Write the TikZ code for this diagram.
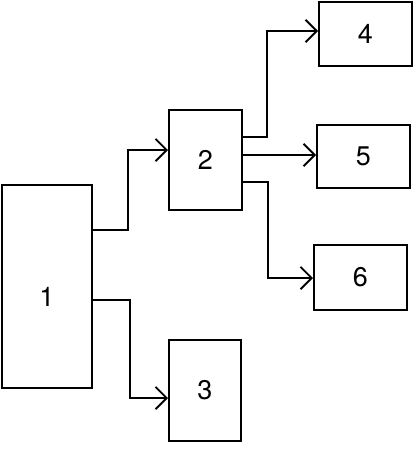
\documentclass[tikz,border=0pt]{standalone}
\usepackage{fontspec}
\setmainfont{TeX Gyre Heros}
\usetikzlibrary{arrows.meta}
\begin{document}
\begin{tikzpicture}[x=1pt,y=-1pt,
  lbl/.style={font=\fontsize{27}{30}\selectfont},
  blk/.style={draw,line width=2pt,minimum width=#1,inner sep=0pt,lbl},
  arr/.style={line width=1.8pt,-{Straight Barb[scale=2.2]}}]
\useasboundingbox (0,0) rectangle (414,450);
\node[blk=90pt,minimum height=203pt,label={[lbl,yshift=-10pt]center:1}] (n1) at (47,286.5) {};
\node[blk=73pt,minimum height=100pt] (n2) at (205.5,160) {2};
\node[blk=72pt,minimum height=101pt] (n3) at (205,390.5) {3};
\node[blk=93pt,minimum height=64pt] (n4) at (365.5,34) {4};
\node[blk=93pt,minimum height=63pt] (n5) at (363.5,156.5) {5};
\node[blk=93pt,minimum height=65pt] (n6) at (360.5,277.5) {6};
\draw[arr] (n1.east |- 0,230) -- (128,230) |- (n2.west |- 0,150);
\draw[arr] (n1.east |- 0,300) -- (130,300) |- (n3.west |- 0,398);
\draw[arr] (n2.east |- 0,137) -- (267,137) |- (n4.west |- 0,31);
\draw[arr] (n2.east |- 0,155) -- (n5.west |- 0,155);
\draw[arr] (n2.east |- 0,182) -- (268,182) |- (n6.west |- 0,278);
\end{tikzpicture}
\end{document}
